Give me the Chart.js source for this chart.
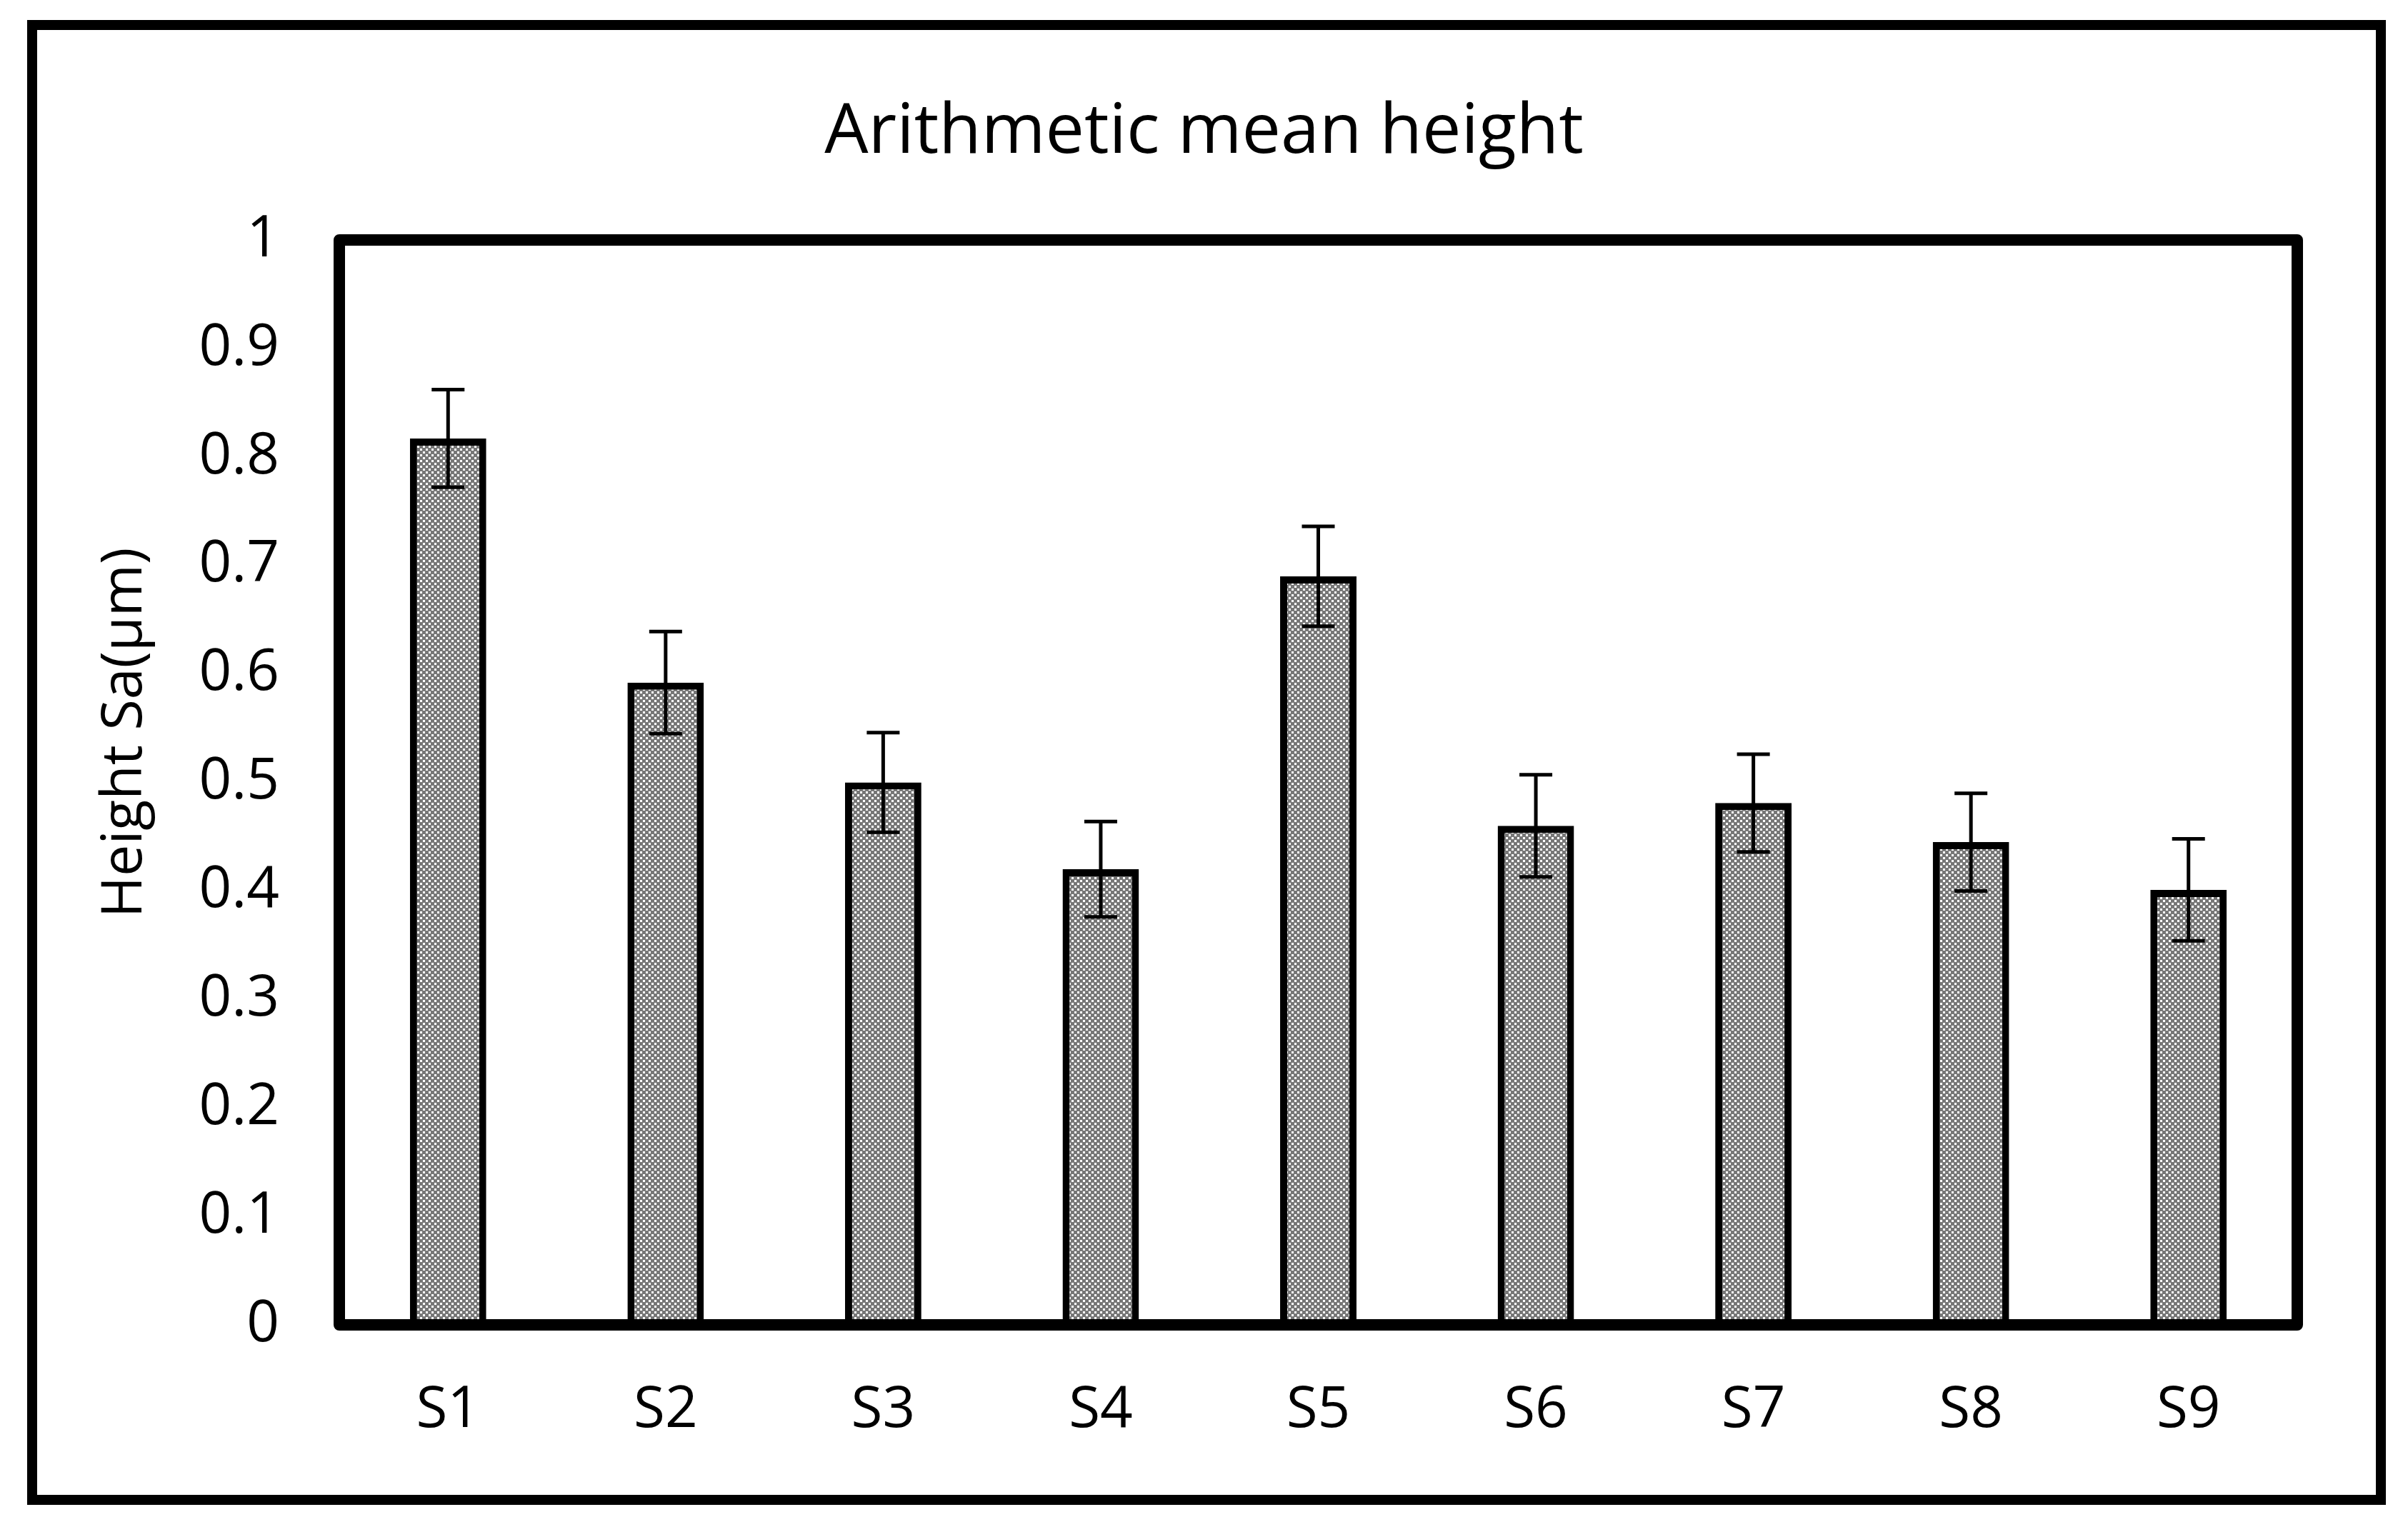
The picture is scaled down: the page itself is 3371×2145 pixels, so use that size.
<!DOCTYPE html>
<html lang="en">
<head>
<meta charset="utf-8">
<script src="https://cdn.jsdelivr.net/npm/chart.js@4.4.1/dist/chart.umd.min.js"></script>
<style>
  html, body { margin: 0; padding: 0; background: #fff; }
  canvas { display: block; }
</style>
</head>
<body>
<canvas id="sa" width="3371" height="2145"></canvas>
<script>
// values
const samples = ['S1', 'S2', 'S3', 'S4', 'S5', 'S6', 'S7', 'S8', 'S9'];
const saMean = [0.817, 0.592, 0.500, 0.420, 0.690, 0.460, 0.481, 0.445, 0.401];
const saErr = [0.045, 0.047, 0.046, 0.044, 0.046, 0.047, 0.045, 0.045, 0.047];
const yTicks = [0, 0.1, 0.2, 0.3, 0.4, 0.5, 0.6, 0.7, 0.8, 0.9, 1];

const FONT = "'Open Sans', 'DejaVu Sans', sans-serif";

const canvas = document.getElementById('sa');
const ctx = canvas.getContext('2d');

// grey dotted fill like the excel pattern
function dotPattern() {
    const c = document.createElement('canvas');
    c.width = 8; c.height = 8;
    const g = c.getContext('2d');
    g.fillStyle = '#777';
    g.fillRect(0, 0, 8, 8);
    g.fillStyle = '#fff';
    g.fillRect(0, 0, 3, 3);
    g.fillRect(4, 4, 3, 3);
    return ctx.createPattern(c, 'repeat');
}

// error bars, plot frame, outer frame, y title
const decorations = {
    id: 'decorations',
    afterDatasetsDraw(chart) {
        const c = chart.ctx;
        const y = chart.scales.y;
        const meta = chart.getDatasetMeta(0);
        c.save();
        c.strokeStyle = '#000';
        c.lineWidth = 5;
        meta.data.forEach((bar, i) => {
            const hi = y.getPixelForValue(saMean[i] + saErr[i]);
            const lo = y.getPixelForValue(saMean[i] - saErr[i]);
            c.beginPath();
            c.moveTo(bar.x, hi); c.lineTo(bar.x, lo);
            c.moveTo(bar.x - 23, hi); c.lineTo(bar.x + 23, hi);
            c.moveTo(bar.x - 23, lo); c.lineTo(bar.x + 23, lo);
            c.stroke();
        });

        const a = chart.chartArea;
        c.lineWidth = 16;
        c.lineJoin = 'round';
        c.strokeRect(a.left, a.top, a.right - a.left, a.bottom - a.top);

        c.lineWidth = 14;
        c.lineJoin = 'miter';
        c.strokeRect(45, 35, 3333 - 45, 2100 - 35);

        c.translate(175, 1026);
        c.rotate(-Math.PI / 2);
        c.font = '79px ' + FONT;
        c.fillStyle = '#000';
        c.textAlign = 'center';
        c.textBaseline = 'middle';
        c.fillText('Height Sa(µm)', 0, 0);
        c.restore();
    }
};

new Chart(ctx, {
    type: 'bar',
    data: {
        labels: samples,
        datasets: [{
            label: 'Sa',
            data: saMean,
            backgroundColor: dotPattern(),
            borderColor: '#000',
            borderWidth: 10,
            barPercentage: 0.351,
            categoryPercentage: 1
        }]
    },
    options: {
        responsive: false,
        animation: false,
        devicePixelRatio: 1,
        layout: { padding: 0 },
        plugins: {
            legend: { display: false },
            tooltip: { enabled: false },
            title: {
                display: true,
                text: 'Arithmetic mean height',
                color: '#000',
                font: { family: FONT, size: 97, weight: 'normal', lineHeight: 1.2 },
                padding: { top: 128, bottom: 91.6 }
            }
        },
        scales: {
            x: {
                grid: { display: false, drawTicks: false },
                border: { display: false },
                ticks: { color: '#000', padding: 72, font: { family: FONT, size: 80 } },
                afterFit(s) { s.height = 290; }
            },
            y: {
                min: 0,
                max: 1,
                grid: { display: false, drawTicks: false },
                border: { display: false },
                ticks: {
                    color: '#000', padding: 84, font: { family: FONT, size: 80 },
                    callback: v => String(v)
                },
                afterBuildTicks(s) { s.ticks = yTicks.map(v => ({ value: v })); },
                afterFit(s) { s.width = 475; }
            },
            // empty right axis, only keeps the right margin
            yRight: {
                position: 'right',
                min: 0,
                max: 1,
                grid: { display: false, drawTicks: false },
                border: { display: false },
                ticks: { display: false },
                afterFit(s) { s.width = 155; }
            }
        }
    },
    plugins: [decorations]
});
</script>
</body>
</html>
